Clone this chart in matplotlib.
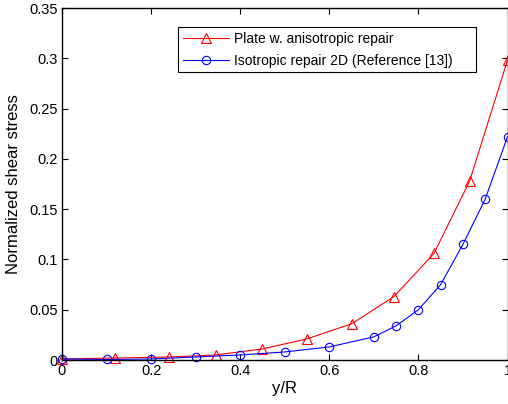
import matplotlib
matplotlib.use("Agg")
import matplotlib.pyplot as plt
from matplotlib.patches import Rectangle

plt.rcParams['font.family'] = ['Liberation Sans', 'DejaVu Sans']

x_aniso = [0.0, 0.12, 0.24, 0.345, 0.45, 0.55, 0.65, 0.745, 0.835, 0.915, 1.0]
y_aniso = [0.001, 0.002, 0.003, 0.005, 0.011, 0.021, 0.036, 0.063, 0.106, 0.178, 0.298]

x_iso = [0.0, 0.1, 0.2, 0.3, 0.4, 0.5, 0.6, 0.7, 0.75, 0.8, 0.85, 0.9, 0.95, 1.0]
y_iso = [0.001, 0.0005, 0.001, 0.003, 0.005, 0.008, 0.013, 0.023, 0.034, 0.050, 0.075, 0.115, 0.160, 0.222]

xticks = [0, 0.2, 0.4, 0.6, 0.8, 1]
xticklabels = ['0', '0.2', '0.4', '0.6', '0.8', '1']
yticks = [0, 0.05, 0.1, 0.15, 0.2, 0.25, 0.3, 0.35]
yticklabels = ['0', '0.05', '0.1', '0.15', '0.2', '0.25', '0.3', '0.35']

W, H = 508, 404
AX_L, AX_B, AX_W, AX_H = 62, 44, 445.5, 352

fig = plt.figure(figsize=(W/100, H/100), dpi=100)
ax = fig.add_axes([AX_L/W, AX_B/H, AX_W/W, AX_H/H])

ax.plot(x_aniso, y_aniso, color='red', lw=0.8, marker='^', markersize=6.5,
        markerfacecolor='none', markeredgecolor='red', markeredgewidth=0.8,
        label='Plate w. anisotropic repair', clip_on=False)
ax.plot(x_iso, y_iso, color='blue', lw=0.8, marker='o', markersize=6,
        markerfacecolor='none', markeredgecolor='blue', markeredgewidth=0.8,
        label='Isotropic repair 2D (Reference [13])', clip_on=False)

ax.set_xlim(0, 1)
ax.set_ylim(0, 0.35)
ax.set_xticks(xticks)
ax.set_xticklabels(xticklabels)
ax.set_yticks(yticks)
ax.set_yticklabels(yticklabels)
ax.tick_params(direction='in', top=True, right=True, labelsize=10.5, length=4, width=0.8, pad=3)
for s in ax.spines.values():
    s.set_linewidth(1.0)

ax.set_xlabel('y/R', fontsize=12, labelpad=2)
ax.set_ylabel('Normalized shear stress', fontsize=12, labelpad=6)

# legend box (pixel extents from the reference: left 178, top 27, right 476, bottom 72)
bx0 = (178 - AX_L) / AX_W
bx1 = (476 - AX_L) / AX_W
by_top = (H - 27 - AX_B) / AX_H
by_bot = (H - 72 - AX_B) / AX_H
ax.add_patch(Rectangle((bx0, by_bot), bx1 - bx0, by_top - by_bot, transform=ax.transAxes,
                       facecolor='white', edgecolor='black', lw=0.8, zorder=4, clip_on=False))

leg = ax.legend(loc='upper left', bbox_to_anchor=(bx0, by_top),
                fontsize=10, frameon=False,
                borderpad=0.35, handlelength=3.3, handletextpad=0.4, labelspacing=0.55,
                borderaxespad=0)
leg.set_zorder(5)

fig.savefig('out.png', dpi=100)
